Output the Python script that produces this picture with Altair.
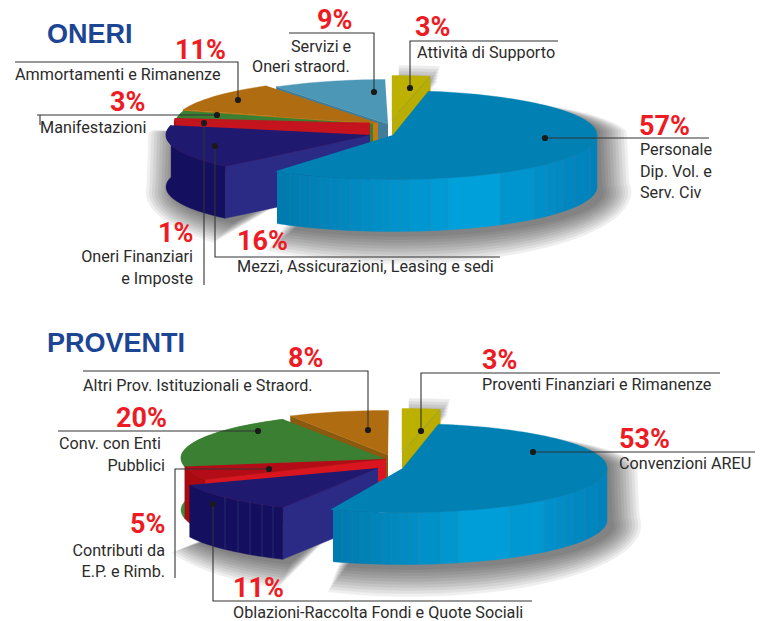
import math
import altair as alt
import pandas as pd

# ---- chart values ----
oneri_names = ["Personale", "Mezzi", "Oneri Finanziari", "Manifestazioni", "Ammortamenti", "Servizi", "Supporto"]
oneri_shares = [57, 16, 1, 3, 11, 9, 3]
proventi_names = ["Convenzioni AREU", "Oblazioni", "Contributi", "Conv. Enti", "Altri Prov.", "Prov. Finanziari"]
proventi_shares = [53, 11, 5, 20, 8, 3]

# explode position of each slice's apex, small angular nudge, outer radius (a)
oneri_apex = [(393, 135), (370, 135), (370, 123), (373, 124), (378, 123), (388, 124), (392, 120)]
oneri_nudge = [0, -10, 0, 0, 0, 0, -0.8]
oneri_a = [204, 204, 196, 198, 204, 204, 204]
proventi_apex = [(403, 468), (378, 468), (386, 459), (383, 458), (388, 455), (402, 453)]
proventi_nudge = [0, -7, -2, 0, -1, -0.8]
proventi_a = [204, 204, 204, 202, 204, 204]

oneri_top = ["#0080b3", "#1f1a6f", "#c5141e", "#3b7f33", "#b06c10", "#4d97b6", "#bcb000"]
oneri_cut = [None, "#2b2a85", "#c5141e", "#3b7f33", "#c47a14", "#3f7d99", "#b8ad00"]
oneri_rim = [None, "#140f5e", "#a80a10", "#3b7f33", None, None, None]
proventi_top = ["#0080b3", "#1f1a6f", "#b40c17", "#3b7f33", "#b06c10", "#bcb000"]
proventi_cut = [None, "#2b2a85", "#d9161f", "#3b7f33", "#8b5a0f", "#b8ad00"]
proventi_rim = [None, "#140f5e", "#a80a10", "#3f8a3a", None, None]

oneri_stripes = [277, 290, 300, 310, 320, 330, 340, 350, 362, 372, 382, 390, 400, 410, 431, 448, 500, 534, 547, 555, 563, 575, 590, 597]
proventi_stripes = [333, 342, 352, 360, 372, 382, 391, 400, 409, 418, 440, 458, 510, 544, 556, 565, 573, 585, 597, 607]
proventi_navy_seams = [225, 238, 250, 262, 273]

title_texts = [("ONERI", 47, 43), ("PROVENTI", 47, 352)]
pct_texts = [
    ("57%", 639, 135), ("9%", 317, 29), ("3%", 415, 36), ("11%", 175, 59), ("3%", 110, 111),
    ("1%", 158, 242), ("16%", 237, 250),
    ("53%", 619, 448), ("3%", 482, 369), ("8%", 288, 367), ("20%", 116, 427), ("5%", 130, 533), ("11%", 233, 597),
]
left_labels = [
    ("Personale", 640, 155), ("Dip. Vol. e", 640, 177), ("Serv. Civ", 640, 198),
    ("Servizi e", 291, 52), ("Oneri straord.", 252, 72), ("Attività di Supporto", 417, 58),
    ("Ammortamenti e Rimanenze", 15, 80), ("Manifestazioni", 40, 133),
    ("Mezzi, Assicurazioni, Leasing e sedi", 237, 272),
    ("Convenzioni AREU", 619, 469), ("Proventi Finanziari e Rimanenze", 482, 390),
    ("Altri Prov. Istituzionali e Straord.", 83, 391), ("Conv. con Enti", 59, 449),
    ("Oblazioni-Raccolta Fondi e Quote Sociali", 233, 618),
]
right_labels = [
    ("Oneri Finanziari", 193, 262), ("e Imposte", 193, 284),
    ("Pubblici", 165, 471), ("Contributi da", 165, 556), ("E.P. e Rimb.", 165, 577),
]
leaders = [
    [(545, 138), (709, 138)],
    [(374, 92), (374, 33), (289, 33)],
    [(410, 88), (410, 41), (558, 41)],
    [(238, 100), (238, 62), (15, 62)],
    [(217, 115), (37, 115)],
    [(40, 115), (40, 125)],
    [(204, 123), (204, 285)],
    [(215, 146), (215, 257), (500, 257)],
    [(533, 452), (755, 452)],
    [(421, 431), (421, 373), (720, 373)],
    [(368, 430), (368, 371), (83, 371)],
    [(258, 431), (58, 431)],
    [(269, 469), (175, 469), (175, 578)],
    [(213, 504), (213, 601), (532, 601)],
]

B, DEPTH, START = 44.5, 52, 80

polys, seams = [], []


def add(points, fill, op=1.0, stroke=None):
    pid = len(polys)
    polys.append(pd.DataFrame({
        "pid": pid, "i": range(len(points)),
        "x": [p[0] for p in points], "y": [p[1] for p in points],
        "fill": fill, "stroke": stroke or fill, "op": op,
    }))


def rim(apex, a, t, b=B):
    r = math.radians(t)
    return (apex[0] + a * math.cos(r), apex[1] - b * math.sin(r))


def frange(t0, t1, step=2.0):
    n = max(2, int(abs(t1 - t0) / step) + 1)
    return [t0 + (t1 - t0) * k / (n - 1) for k in range(n)]


def blue_color(x, x0, x1):
    f = (x - x0) / (x1 - x0)
    p = 0.6
    if f < p:
        g = f / p
        c0, c1 = (0, 122, 174), (0, 161, 220)
    else:
        g = (f - p) / (1 - p)
        c0, c1 = (0, 161, 220), (0, 128, 186)
    return "#%02x%02x%02x" % tuple(round(u + (v - u) * g) for u, v in zip(c0, c1))


def shadow(apex, a, t0, t1, spread, level=0.06, grow_up=False):
    for e in range(spread, -1, -3):
        pts = [(apex[0] + 7, apex[1] + 12)]
        for t in frange(t0, t1, 4):
            r = math.radians(t)
            s = math.sin(r)
            base = DEPTH if s < 0.15 else 0
            by = B + e if (s < 0.15 or grow_up) else B
            pts.append((apex[0] + 7 + (a + e) * math.cos(r), apex[1] + 5 + base - by * s))
        add(pts, "#000000", level)


def pie(shares, apexes, nudges, radii, tops, cuts, rims, stripes, seam_xs=()):
    # angular range of every slice, clockwise from START
    spans, t = [], START
    for s, n in zip(shares, nudges):
        sweep = s * 3.6
        spans.append((t + n, t - sweep + n))
        t -= sweep
    k_navy = 1
    shadow(apexes[0], radii[0], spans[0][0], spans[0][1], 27)
    shadow(apexes[k_navy], radii[k_navy], spans[k_navy][0], spans[k_navy][1], 27)
    shadow(apexes[-1], radii[-1], spans[-1][0], spans[-1][1], 15, 0.07, True)
    # back to front: last slice first, then navy, then the large one
    order = list(range(len(shares) - 1, 0, -1)) + [0]
    for k in order:
        t0, t1 = spans[k]
        apex, a = apexes[k], radii[k]
        if cuts[k]:
            cut_t = t1 if k == len(shares) - 1 else t0
            p = rim(apex, a, cut_t)
            add([apex, p, (p[0], p[1] + DEPTH), (apex[0], apex[1] + DEPTH)], cuts[k])
        if rims[k]:
            ring = [rim(apex, a, u) for u in frange(t0, t1)]
            add(ring + [(x, y + DEPTH) for x, y in reversed(ring)], rims[k])
        if k == 0:
            cx, ax = apex[0], a
            for x0, x1 in zip(stripes[:-1], stripes[1:]):
                ang0 = -math.degrees(math.acos(max(-1, min(1, (x0 - cx) / ax))))
                ang1 = -math.degrees(math.acos(max(-1, min(1, (x1 - cx) / ax))))
                ring = [rim(apex, a, u) for u in frange(ang0, ang1, 1.5)]
                col = blue_color((x0 + x1) / 2, stripes[0], stripes[-1])
                add(ring + [(x, y + DEPTH) for x, y in reversed(ring)], col)
                seams.append([(x1, ring[-1][1]), (x1, ring[-1][1] + DEPTH)])
        add([apex] + [rim(apex, a, u) for u in frange(t0, t1)], tops[k])
        if k == len(shares) - 1:
            seams.append([apex, rim(apex, a, t1)])
    for x in seam_xs:
        ang = -math.degrees(math.acos((x - apexes[k_navy][0]) / radii[k_navy]))
        p = rim(apexes[k_navy], radii[k_navy], ang)
        seams.append([p, (p[0], p[1] + DEPTH)])


pie(oneri_shares, oneri_apex, oneri_nudge, oneri_a, oneri_top, oneri_cut, oneri_rim, oneri_stripes)
pie(proventi_shares, proventi_apex, proventi_nudge, proventi_a, proventi_top, proventi_cut, proventi_rim,
    proventi_stripes, proventi_navy_seams)

poly_df = pd.concat(polys, ignore_index=True)
X = alt.X("x:Q", axis=None, scale=alt.Scale(domain=[8, 758], zero=False, nice=False))
Y = alt.Y("y:Q", axis=None, scale=alt.Scale(domain=[621, 8], zero=False, nice=False))

shapes = alt.Chart(poly_df).mark_line(strokeWidth=0.4, interpolate="linear").encode(
    x=X, y=Y,
    detail="pid:N",
    order="i:Q",
    fill=alt.Fill("fill:N", scale=None),
    stroke=alt.Stroke("stroke:N", scale=None),
    opacity=alt.Opacity("op:Q", scale=None),
)

seam_df = pd.DataFrame(
    [{"sid": s, "i": i, "x": p[0], "y": p[1]} for s, pts in enumerate(seams) for i, p in enumerate(pts)]
)
seam_layer = alt.Chart(seam_df).mark_line(color="#5b7f95", strokeWidth=0.5, opacity=0.55).encode(
    x=X, y=Y, detail="sid:N", order="i:Q"
)

lead_df = pd.DataFrame(
    [{"lid": s, "i": i, "x": p[0], "y": p[1]} for s, pts in enumerate(leaders) for i, p in enumerate(pts)]
)
lead_layer = alt.Chart(lead_df).mark_line(color="#333333", strokeWidth=1.1).encode(
    x=X, y=Y, detail="lid:N", order="i:Q"
)
dot_df = pd.DataFrame(
    [{"x": pts[0][0], "y": pts[0][1]} for pts in leaders if len(pts) > 1 and pts[0] != (40, 115)]
)
dot_layer = alt.Chart(dot_df).mark_circle(size=38, color="#1a1a1a", opacity=1).encode(x=X, y=Y)


def text_layer(rows, **kw):
    df = pd.DataFrame(rows, columns=["t", "x", "y"])
    return alt.Chart(df).mark_text(baseline="alphabetic", **kw).encode(x=X, y=Y, text="t:N")


body_font = "Roboto"
titles = text_layer(title_texts, align="left", font="Liberation Sans", fontWeight="bold", fontSize=27, color="#1c4594")
pcts = text_layer(pct_texts, align="left", font=body_font, fontWeight="bold", fontSize=27, color="#ed1c24")
lefts = text_layer(left_labels, align="left", font=body_font, fontSize=16.2, color="#2b2b2b")
rights = text_layer(right_labels, align="right", font=body_font, fontSize=16.2, color="#2b2b2b")

chart = alt.layer(shapes, seam_layer, lead_layer, dot_layer, titles, pcts, lefts, rights).properties(
    width=750, height=613, padding=0,
    autosize=alt.AutoSizeParams(type="none"),
    background="#ffffff",
).configure_view(stroke=None)

chart.save("out.html", embed_options={"renderer": "svg", "actions": False})
